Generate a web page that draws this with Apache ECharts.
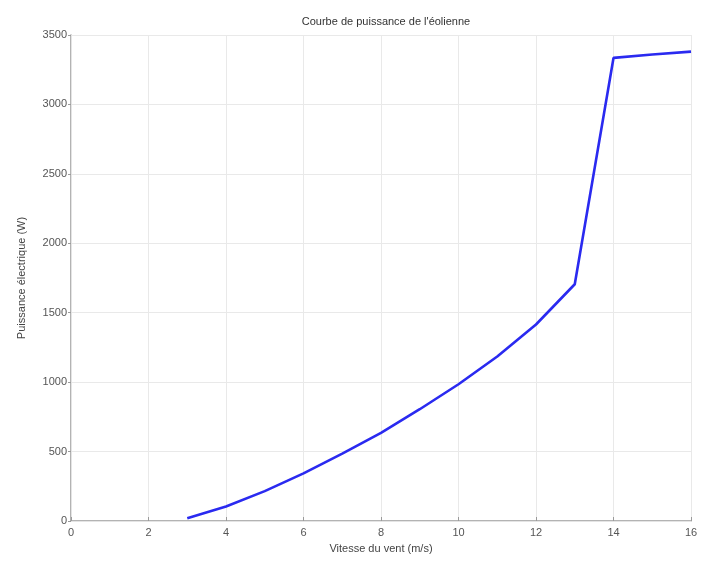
<!DOCTYPE html>
<html>
<head>
<meta charset="utf-8">
<script src="https://cdn.jsdelivr.net/npm/echarts@6/dist/echarts.min.js"></script>
<style>
html,body{margin:0;padding:0;background:#fff;}
#chart{width:701px;height:563px;}
</style>
</head>
<body>
<div id="chart"></div>
<script>
// Wind speed (m/s) and electrical power output (W) of the turbine
const windSpeed = [3, 4, 5, 6, 7, 8, 9, 10, 11, 12, 13, 14, 15, 16];
const power = [20, 105, 215, 343, 485, 635, 805, 985, 1185, 1415, 1705, 3335, 3360, 3380];

const titleText = "Courbe de puissance de l'éolienne";
const xLabel = 'Vitesse du vent (m/s)';
const yLabel = 'Puissance électrique (W)';

const chart = echarts.init(document.getElementById('chart'));
const font = 'Liberation Sans, Arial, sans-serif';
const axisGray = '#9a9a9a';
const plain = v => String(v);

chart.setOption({
  animation: false,
  backgroundColor: '#ffffff',
  title: {
    text: titleText,
    left: 381, top: 11, textAlign: 'center',
    textStyle: {fontFamily: font, fontSize: 11, fontWeight: 'normal', color: '#333'}
  },
  grid: {left: 71, right: 10, top: 35, bottom: 42},
  xAxis: [{
    type: 'value', min: 0, max: 16, interval: 2,
    name: xLabel, nameLocation: 'middle', nameGap: 22,
    nameTextStyle: {fontFamily: font, fontSize: 11, color: '#444'},
    axisLine: {show: true, onZero: false, lineStyle: {color: axisGray, width: 1.5}},
    axisTick: {show: true, inside: true, length: 4, lineStyle: {color: axisGray}},
    axisLabel: {fontFamily: font, fontSize: 11, color: '#555', margin: 6, formatter: plain},
    splitLine: {show: true, lineStyle: {color: '#e9e9e9', width: 1}}
  }, {
    type: 'value', min: 0, max: 16, interval: 2, position: 'top',
    axisLine: {show: true, lineStyle: {color: '#e4e4e4'}},
    axisTick: {show: false}, axisLabel: {show: false}, splitLine: {show: false}
  }],
  yAxis: [{
    type: 'value', min: 0, max: 3500, interval: 500,
    name: yLabel, nameLocation: 'middle', nameGap: 44, nameRotate: 90,
    nameTextStyle: {fontFamily: font, fontSize: 11, color: '#444'},
    axisLine: {show: true, onZero: false, lineStyle: {color: axisGray, width: 1.5}},
    axisTick: {show: true, inside: false, length: 3, lineStyle: {color: axisGray}},
    axisLabel: {fontFamily: font, fontSize: 11, color: '#555', margin: 4, formatter: plain},
    splitLine: {show: true, lineStyle: {color: '#e9e9e9', width: 1}}
  }, {
    type: 'value', min: 0, max: 3500, interval: 500, position: 'right',
    axisLine: {show: true, lineStyle: {color: '#e4e4e4'}},
    axisTick: {show: false}, axisLabel: {show: false}, splitLine: {show: false}
  }],
  series: [{
    type: 'line',
    data: windSpeed.map((v, i) => [v, power[i]]),
    showSymbol: false,
    lineStyle: {color: '#2a2af0', width: 2.6},
    itemStyle: {color: '#2a2af0'}
  }]
});
</script>
</body>
</html>
